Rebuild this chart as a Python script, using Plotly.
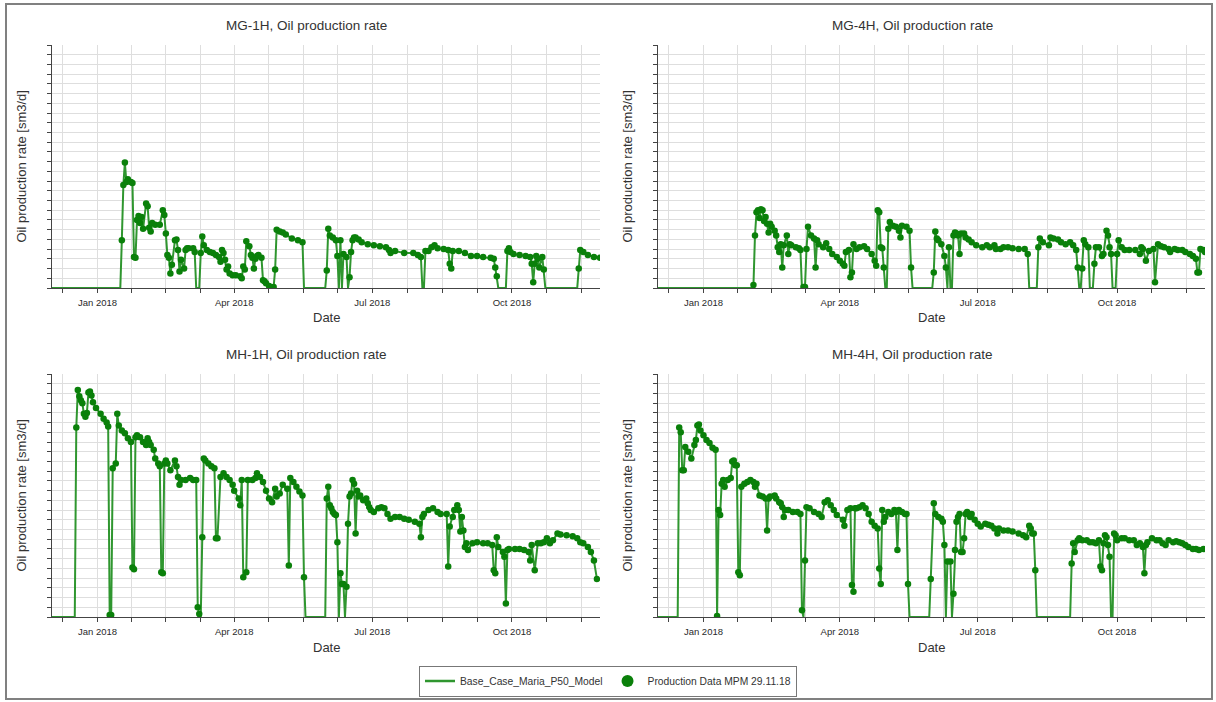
import pandas as pd
import plotly.graph_objects as go

# Report steps are given as elapsed days from 2018-01-01 (negative = December 2017)
T0 = pd.Timestamp("2018-01-01")

# ---------------- MG-1H ----------------
mg1h_day = [-31, 15, 16, 17, 18, 19, 20, 22, 23, 24, 25, 26, 27, 28, 29, 30, 32, 33, 34, 35, 36, 38, 41,
            43, 44, 45, 46, 47, 48, 49, 51, 52, 53, 54, 55, 57, 58, 59, 60, 63, 64, 65, 67, 68, 69, 70,
            72, 74, 76, 78, 80, 81, 82, 83, 84, 85, 86, 87, 89, 91, 94, 95, 96, 97, 98, 100, 101, 102,
            103, 104, 105, 106, 108, 109, 110, 111, 113, 116, 117, 118, 120, 122, 124, 128, 132, 135,
            136, 150, 151, 152, 153, 155, 157, 158, 159, 160, 161, 162, 164, 165, 166, 167, 168, 169,
            170, 172, 174, 178, 182, 186, 190, 192, 193, 196, 202, 208, 211, 213, 214, 215, 216, 218,
            220, 222, 224, 228, 231, 232, 233, 234, 238, 242, 246, 250, 254, 259, 261, 262, 263, 264,
            269, 270, 271, 272, 274, 278, 282, 285, 286, 287, 288, 289, 290, 291, 293, 294, 295, 316,
            317, 318, 320, 323, 327, 331]
mg1h_rate = [0, 0, 490, 1060, 1290, 1090, 1120, 1090, 1080, 320, 310, 700, 740, 670, 730, 610, 870, 840,
             620, 580, 670, 650, 650, 800, 750, 560, 340, 310, 150, 240, 490, 500, 390, 170, 290, 200,
             390, 410, 410, 410, 370, 0, 0, 360, 530, 440, 390, 370, 360, 340, 320, 270, 390, 360, 290,
             190, 220, 150, 130, 130, 120, 100, 220, 190, 480, 430, 340, 310, 200, 300, 330, 340, 310,
             80, 70, 50, 20, 10, 190, 600, 580, 570, 550, 510, 490, 470, 0, 0, 180, 610, 540, 520,
             490, 330, 0, 490, 0, 350, 320, 0, 110, 370, 490, 520, 520, 500, 470, 450, 440, 430, 420,
             390, 360, 380, 360, 360, 340, 320, 0, 0, 380, 380, 420, 440, 410, 400, 390, 250, 200,
             380, 380, 360, 330, 330, 320, 310, 300, 210, 120, 0, 0, 380, 410, 370, 350, 340, 330,
             320, 250, 60, 250, 330, 300, 210, 320, 190, 0, 0, 200, 390, 370, 340, 320, 310]

# ---------------- MG-4H ----------------
mg4h_day = [-31, 32, 33, 34, 35, 36, 37, 38, 39, 40, 41, 42, 43, 44, 45, 47, 48, 49, 50, 51, 52, 53, 55,
            56, 57, 58, 61, 63, 64, 65, 66, 67, 68, 69, 71, 73, 74, 75, 76, 79, 81, 83, 85, 88, 90, 92,
            93, 94, 96, 97, 98, 99, 101, 103, 106, 108, 111, 113, 114, 115, 116, 117, 118, 119, 120,
            121, 122, 123, 125, 127, 129, 130, 131, 134, 136, 137, 138, 151, 152, 153, 154, 155, 157,
            159, 160, 161, 162, 163, 164, 165, 166, 167, 168, 169, 170, 172, 173, 175, 177, 180, 184,
            187, 189, 192, 193, 196, 198, 201, 204, 208, 212, 214, 215, 220, 221, 222, 224, 228, 229,
            231, 234, 236, 239, 242, 244, 246, 247, 248, 249, 250, 251, 252, 254, 255, 257, 258, 259,
            261, 263, 264, 266, 267, 268, 269, 270, 272, 273, 274, 276, 278, 281, 285, 288, 289, 290,
            292, 294, 297, 298, 300, 302, 304, 307, 308, 311, 313, 316, 318, 321, 323, 325, 326, 327,
            328, 330, 331]
mg4h_rate = [0, 0, 30, 540, 780, 800, 720, 810, 800, 690, 730, 660, 570, 660, 630, 590, 540, 420, 370,
             450, 210, 440, 540, 350, 450, 440, 420, 410, 390, 0, 10, 10, 400, 630, 540, 510, 210, 490,
             450, 420, 460, 400, 350, 320, 280, 250, 230, 370, 390, 110, 160, 450, 400, 420, 430, 400,
             350, 280, 230, 800, 780, 420, 410, 210, 0, 0, 610, 680, 640, 630, 590, 520, 640, 630,
             590, 210, 0, 0, 160, 580, 510, 490, 450, 330, 210, 0, 420, 0, 0, 540, 570, 560, 540, 350,
             560, 560, 520, 500, 470, 440, 420, 440, 420, 440, 400, 400, 420, 420, 410, 400, 400, 350,
             0, 0, 420, 510, 470, 440, 520, 510, 500, 470, 450, 470, 440, 390, 210, 0, 0, 200, 490,
             450, 420, 0, 0, 250, 420, 420, 330, 350, 590, 540, 420, 350, 0, 0, 350, 490, 420, 390,
             390, 390, 350, 420, 400, 280, 380, 400, 60, 450, 430, 420, 400, 370, 400, 390, 390, 370,
             350, 330, 300, 160, 160, 400, 390, 370]

# ---------------- MH-1H ----------------
mh1h_day = [-31, -15, -14, -13, -12, -11, -10, -9, -8, -7, -6, -5, -4, -3, -1, 2, 4, 6, 7, 8, 9, 10, 12,
            13, 14, 16, 18, 20, 22, 23, 24, 25, 26, 28, 30, 32, 33, 34, 35, 37, 38, 40, 41, 42, 43, 44,
            45, 46, 48, 51, 52, 53, 54, 55, 58, 61, 63, 65, 66, 67, 68, 69, 70, 71, 73, 75, 77, 78, 79,
            81, 83, 85, 87, 89, 90, 93, 94, 95, 96, 98, 99, 102, 104, 105, 107, 109, 111, 113, 115, 117,
            118, 120, 122, 125, 126, 127, 129, 131, 133, 135, 136, 137, 150, 151, 152, 153, 154, 155,
            156, 157, 158, 159, 160, 161, 162, 163, 164, 165, 166, 167, 168, 169, 170, 171, 172, 173,
            175, 177, 178, 179, 180, 182, 185, 187, 189, 191, 193, 196, 199, 202, 205, 209, 212, 213,
            214, 215, 218, 221, 224, 226, 230, 231, 232, 234, 235, 237, 238, 239, 240, 241, 242, 243,
            244, 247, 250, 254, 257, 260, 261, 262, 263, 264, 267, 268, 269, 270, 271, 275, 278, 281,
            284, 285, 286, 288, 290, 292, 294, 296, 298, 300, 303, 305, 309, 313, 316, 318, 320, 323,
            325, 327, 329]
mh1h_rate = [0, 0, 1950, 2335, 2270, 2230, 2200, 2090, 2060, 2100, 2310, 2320, 2280, 2210, 2150, 2090,
             2040, 2000, 1960, 20, 20, 1530, 1580, 2090, 1970, 1920, 1890, 1840, 1800, 510, 490, 1850,
             1870, 1850, 1800, 1770, 1840, 1800, 1770, 1720, 1630, 1580, 1550, 460, 450, 1580, 1610,
             1580, 1510, 1610, 1550, 1440, 1360, 1410, 1410, 1430, 1410, 1410, 100, 30, 0, 820, 1630,
             1610, 1580, 1550, 1530, 810, 810, 1440, 1480, 1440, 1410, 1360, 1300, 1220, 1150, 1410,
             410, 460, 1410, 1410, 1430, 1480, 1440, 1390, 1300, 1220, 1180, 1320, 1240, 1270, 1360,
             1320, 530, 1430, 1390, 1340, 1290, 1250, 410, 0, 0, 1220, 1340, 1150, 1120, 1080, 1060,
             1050, 770, 0, 450, 340, 340, 0, 310, 960, 1240, 1270, 1410, 1370, 860, 1300, 1240, 1250,
             1200, 1220, 1170, 1130, 1100, 1080, 1120, 1130, 1120, 1060, 1010, 1030, 1030, 1010, 1000,
             980, 960, 820, 1030, 1060, 1100, 1120, 1080, 1060, 1060, 520, 930, 1030, 1100, 1150, 1100,
             880, 1030, 890, 720, 760, 690, 760, 770, 760, 760, 740, 480, 450, 820, 720, 670, 620, 140,
             690, 700, 700, 700, 690, 670, 580, 740, 480, 760, 760, 770, 810, 760, 790, 860, 850, 840,
             830, 810, 770, 760, 720, 670, 580, 390]

# ---------------- MH-4H ----------------
mh4h_day = [-31, -17, -16, -15, -14, -13, -12, -10, -8, -6, -5, -4, -3, -2, 0, 2, 4, 6, 8, 9, 10, 11,
            12, 13, 14, 16, 18, 19, 20, 21, 22, 23, 24, 25, 27, 29, 31, 33, 34, 35, 37, 39, 41, 42, 43,
            44, 47, 48, 50, 51, 52, 53, 54, 56, 59, 62, 64, 65, 66, 67, 68, 70, 73, 76, 78, 80, 82, 84,
            86, 88, 92, 93, 95, 97, 98, 99, 100, 101, 103, 105, 107, 109, 111, 113, 115, 116, 117, 118,
            119, 120, 122, 124, 126, 127, 128, 129, 131, 133, 134, 135, 136, 149, 150, 152, 153, 155,
            157, 158, 159, 160, 161, 163, 164, 165, 166, 167, 168, 169, 170, 171, 172, 173, 174, 175,
            176, 177, 179, 181, 183, 186, 188, 190, 192, 194, 195, 198, 201, 204, 208, 211, 213, 215,
            216, 217, 218, 219, 220, 242, 243, 244, 245, 247, 248, 250, 253, 255, 257, 259, 261, 262,
            263, 264, 265, 266, 267, 268, 269, 270, 271, 272, 273, 276, 278, 281, 284, 286, 288, 290,
            291, 292, 293, 296, 299, 301, 303, 305, 307, 310, 312, 314, 316, 318, 320, 323, 325, 327,
            330]
mh4h_rate = [0, 0, 1950, 1900, 1510, 1510, 1750, 1700, 1630, 1770, 1820, 1970, 1980, 1920, 1870, 1820,
             1790, 1740, 1720, 10, 1100, 1050, 1370, 1410, 1340, 1410, 1430, 1600, 1610, 1560, 1560,
             460, 430, 1340, 1370, 1390, 1410, 1390, 1340, 1370, 1250, 1240, 1220, 890, 1220, 1240,
             1250, 1220, 1180, 1170, 1130, 1030, 1100, 1100, 1080, 1080, 1060, 70, 0, 580, 1130, 1120,
             1080, 1060, 1030, 1180, 1200, 1150, 1100, 1050, 1000, 940, 1100, 1120, 330, 260, 1120,
             1120, 1130, 1150, 1120, 1060, 980, 940, 910, 500, 340, 1100, 980, 1030, 1080, 1060, 1100,
             1080, 690, 1100, 1080, 1060, 1060, 340, 0, 0, 390, 1170, 1060, 1030, 1010, 980, 740, 0,
             570, 570, 0, 240, 690, 980, 1030, 1060, 670, 670, 810, 1060, 1080, 1060, 1030, 1060, 1000,
             960, 930, 960, 950, 940, 910, 860, 910, 890, 890, 880, 860, 840, 820, 940, 910, 860, 860,
             480, 0, 0, 550, 760, 670, 790, 810, 790, 790, 770, 770, 760, 790, 520, 480, 760, 840, 820,
             740, 620, 0, 0, 860, 840, 790, 810, 810, 790, 790, 740, 760, 720, 450, 740, 770, 810, 790,
             790, 760, 740, 790, 770, 780, 770, 760, 740, 720, 700, 700, 690, 700]

panel_titles = ["MG-1H, Oil production rate", "MG-4H, Oil production rate",
                "MH-1H, Oil production rate", "MH-4H, Oil production rate"]
wells = [(mg1h_day, mg1h_rate), (mg4h_day, mg4h_rate), (mh1h_day, mh1h_rate), (mh4h_day, mh4h_rate)]

model_name = "Base_Case_Maria_P50_Model"
data_name = "Production Data MPM 29.11.18"
x_title = "Date"
y_title = "Oil production rate [sm3/d]"
quarter_starts = ["2017-10-01", "2018-01-01", "2018-04-01", "2018-07-01", "2018-10-01", "2019-01-01"]
x_range = ["2017-12-02", "2018-11-28"]
y_max = 2500
y_step = 100

W, H = 1216, 702
FONT = "Liberation Sans, Arial, sans-serif"
TEXT = "#333333"
LINE_GREEN = "#2f962f"
DOT_GREEN = "#0a800a"
GRID = "#dedede"
AXIS = "#444444"

# plot areas in pixels: left, right, top, bottom
boxes = [(52, 600, 45, 288), (658, 1205, 45, 288), (52, 600, 374, 617), (658, 1205, 374, 617)]

# date ticks: each quarter split in four, label on quarter start
qs = pd.to_datetime(quarter_starts)
tickvals, ticktext = [], []
for a, b in zip(qs[:-1], qs[1:]):
    for k in range(4):
        t = a + (b - a) * k / 4
        tickvals.append(t)
        ticktext.append(t.strftime("%b %Y") if k == 0 else "")


def px_x(p):
    return p / W


def px_y(p):
    return 1 - p / H


def label(text, x, y, size, angle=0):
    return dict(text=text, x=px_x(x), y=px_y(y), xref="paper", yref="paper",
                xanchor="center", yanchor="middle", showarrow=False, textangle=angle,
                font=dict(family=FONT, size=size, color=TEXT))


fig = go.Figure()
annotations = []

for i, ((days, rates), title) in enumerate(zip(wells, panel_titles)):
    n = "" if i == 0 else str(i + 1)
    dates = [T0 + pd.Timedelta(days=d) for d in days]
    l, r, t, b = boxes[i]

    fig.add_trace(go.Scatter(
        x=dates, y=rates, mode="lines", name=model_name, showlegend=False,
        line=dict(color=LINE_GREEN, width=2), xaxis="x" + n, yaxis="y" + n,
        hoverinfo="skip"))
    dd = [d for d, v in zip(dates, rates) if v > 0]
    vv = [v for v in rates if v > 0]
    fig.add_trace(go.Scatter(
        x=dd, y=vv, mode="markers", name=data_name, showlegend=False,
        marker=dict(color=DOT_GREEN, size=6.5, line=dict(width=0)),
        xaxis="x" + n, yaxis="y" + n))

    fig.update_layout(**{
        "xaxis" + n: dict(
            domain=[px_x(l), px_x(r)], anchor="y" + n, type="date", range=x_range,
            tickmode="array", tickvals=tickvals, ticktext=ticktext,
            showgrid=True, gridcolor=GRID, gridwidth=1,
            showline=True, linecolor=AXIS, linewidth=1,
            ticks="outside", ticklen=4, tickcolor=AXIS, ticklabelstandoff=2,
            tickfont=dict(family=FONT, size=9.5, color="#2a2a2a"), zeroline=False),
        "yaxis" + n: dict(
            domain=[px_y(b), px_y(t)], anchor="x" + n, range=[0, y_max],
            tickmode="linear", tick0=0, dtick=y_step, showticklabels=False,
            showgrid=True, gridcolor=GRID, gridwidth=1,
            showline=True, linecolor=AXIS, linewidth=1,
            ticks="outside", ticklen=4, tickcolor=AXIS, zeroline=False),
    })

    half = 6 if l < 600 else 612
    annotations.append(label(title, half + 300, t - 20, 13.5))
    annotations.append(label(x_title, (l + r) / 2, b + 30, 13))
    annotations.append(label(y_title, l - 31, (t + b) / 2, 13, angle=-90))

# legend entries
fig.add_trace(go.Scatter(x=[None], y=[None], mode="lines", name=model_name,
                         line=dict(color=LINE_GREEN, width=2.5)))
fig.add_trace(go.Scatter(x=[None], y=[None], mode="markers", name=data_name,
                         marker=dict(color=DOT_GREEN, size=12)))

fig.update_layout(
    width=W, height=H, margin=dict(l=0, r=0, t=0, b=0),
    paper_bgcolor="white", plot_bgcolor="white",
    annotations=annotations,
    showlegend=True,
    legend=dict(orientation="h", x=0.5, xanchor="center", y=px_y(681), yanchor="middle",
                bordercolor="#777777", borderwidth=1, bgcolor="white",
                font=dict(family=FONT, size=10.3, color=TEXT), itemwidth=30),
    shapes=[dict(type="rect", xref="paper", yref="paper",
                 x0=px_x(6), x1=px_x(1212), y0=px_y(699), y1=px_y(4),
                 line=dict(color="#808080", width=2))],
    hovermode=False,
)

fig.write_html("out.html")
